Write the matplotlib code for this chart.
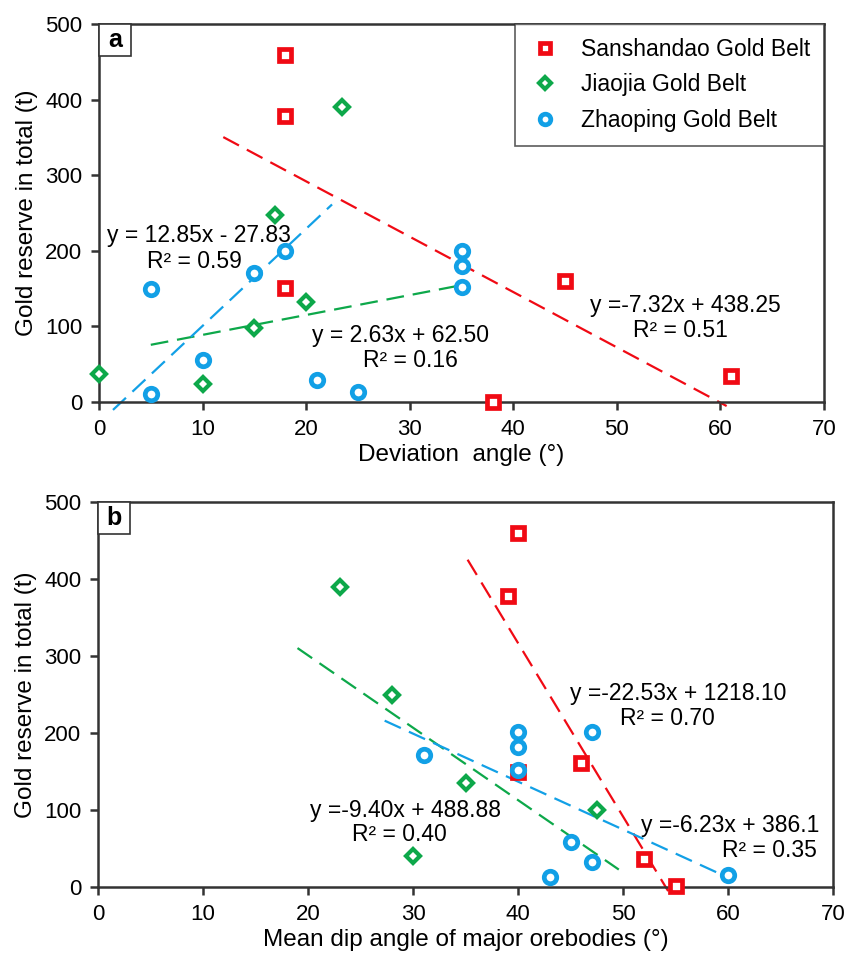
import numpy as np
import matplotlib.pyplot as plt
from matplotlib.patches import Rectangle

plt.rcParams['font.family'] = ['Liberation Sans', 'DejaVu Sans']

# panel a: deviation angle (deg) vs total gold reserve (t)
san_dev = [18, 18, 18, 38, 45, 61]
san_res_a = [459, 378, 151, 0, 160, 34]
jia_dev = [0, 10, 15, 17, 20, 23.5]
jia_res_a = [37, 24, 98, 247, 132, 390]
zha_dev = [5, 5, 10, 15, 18, 21, 25, 35, 35, 35]
zha_res_a = [150, 10, 56, 171, 200, 29, 13, 200, 180, 152]

# panel b: mean dip angle of major orebodies (deg) vs total gold reserve (t)
san_dip = [40, 39, 40, 46, 52, 55]
san_res_b = [460, 378, 150, 161, 36, 1]
jia_dip = [23, 28, 30, 35, 47.5]
jia_res_b = [390, 249, 40, 135, 100]
zha_dip = [31, 40, 40, 40, 47, 45, 47, 43, 60]
zha_res_b = [171, 201, 182, 152, 201, 58, 32, 13, 16]

# regression lines: slope, intercept, x start, x end
fit_san_a = (-7.32, 438.25, 12.0, 60.6)
fit_jia_a = (2.63, 62.50, 5.0, 35.0)
fit_zha_a = (12.85, -27.83, 1.35, 22.5)
fit_san_b = (-22.53, 1218.10, 35.2, 54.3)
fit_jia_b = (-9.40, 488.88, 19.0, 49.6)
fit_zha_b = (-6.23, 386.1, 27.3, 59.0)

labels = ['Sanshandao Gold Belt', 'Jiaojia Gold Belt', 'Zhaoping Gold Belt']

RED = '#f00a14'
GREEN = '#0da84a'
BLUE = '#12a0e6'
SPINE = '#333333'

mk_san = dict(marker='s', ms=8.0, mfc='white', mec=RED, mew=3.4, ls='none')
mk_jia = dict(marker='D', ms=7.0, mfc='white', mec=GREEN, mew=3.0, ls='none')
mk_zha = dict(marker='o', ms=9.0, mfc='white', mec=BLUE, mew=3.4, ls='none')

W, H = 849, 956
fig = plt.figure(figsize=(W / 100, H / 100), dpi=100)
ax_a = fig.add_axes([99 / W, 1 - 402 / H, (824 - 99) / W, (402 - 24) / H])
ax_b = fig.add_axes([98 / W, 1 - 887 / H, (833 - 98) / W, (887 - 502) / H])


def fit_line(ax, fit, color):
    k, b, x0, x1 = fit
    xs = np.array([x0, x1])
    ax.plot(xs, k * xs + b, color=color, lw=1.6, dashes=(8, 4), clip_on=False, zorder=2)


def style_axes(ax, letter):
    ax.set_xlim(0, 70)
    ax.set_ylim(0, 500)
    ax.set_xticks(np.arange(0, 71, 10))
    ax.set_yticks(np.arange(0, 501, 100))
    for s in ax.spines.values():
        s.set_color(SPINE)
        s.set_linewidth(1.8)
    ax.tick_params(direction='out', length=6, width=1.8, color=SPINE,
                   labelsize=16, pad=6, top=False, right=False)
    ax.set_ylabel('Gold reserve in total (t)', fontsize=17.5, labelpad=5)
    # panel letter in a small square box at the top-left corner
    pos = ax.get_position()
    bw = 32 / (pos.width * W)
    bh = 32 / (pos.height * H)
    ax.add_patch(Rectangle((0, 1 - bh), bw, bh, transform=ax.transAxes,
                           fc='white', ec=SPINE, lw=1.2, zorder=5, clip_on=False))
    ax.text(bw / 2, 1 - bh / 2, letter, transform=ax.transAxes, ha='center', va='center',
            fontsize=18, fontweight='bold', zorder=6)


# ---- panel a ----
fit_line(ax_a, fit_san_a, RED)
fit_line(ax_a, fit_jia_a, GREEN)
fit_line(ax_a, fit_zha_a, BLUE)
h1, = ax_a.plot(san_dev, san_res_a, clip_on=False, zorder=3, **mk_san)
h2, = ax_a.plot(jia_dev, jia_res_a, clip_on=False, zorder=3, **mk_jia)
h3, = ax_a.plot(zha_dev, zha_res_a, clip_on=False, zorder=3, **mk_zha)
style_axes(ax_a, 'a')
ax_a.set_xlabel('Deviation  angle (°)', fontsize=17.5, labelpad=3)

txt = dict(fontsize=16.5, va='baseline', ha='left')
ax_a.text(0.77, 211.6, 'y = 12.85x - 27.83', **txt)
ax_a.text(4.63, 177.2, 'R² = 0.59', **txt)
ax_a.text(20.6, 79.4, 'y = 2.63x + 62.50', **txt)
ax_a.text(25.5, 46.3, 'R² = 0.16', **txt)
ax_a.text(47.4, 119.0, 'y =-7.32x + 438.25', **txt)
ax_a.text(51.6, 86.0, 'R² = 0.51', **txt)

leg = ax_a.legend([h1, h2, h3], labels, loc='upper right', bbox_to_anchor=(1.0, 1.0),
                  fontsize=16.5, frameon=True, fancybox=False, borderaxespad=0,
                  borderpad=0.6, handlelength=1.5, handletextpad=0.8, labelspacing=0.55,
                  markerscale=0.85)
leg.get_frame().set_edgecolor(SPINE)
leg.get_frame().set_linewidth(1.2)

# ---- panel b ----
fit_line(ax_b, fit_san_b, RED)
fit_line(ax_b, fit_jia_b, GREEN)
fit_line(ax_b, fit_zha_b, BLUE)
ax_b.plot(san_dip, san_res_b, clip_on=False, zorder=3, **mk_san)
ax_b.plot(jia_dip, jia_res_b, clip_on=False, zorder=3, **mk_jia)
ax_b.plot(zha_dip, zha_res_b, clip_on=False, zorder=4, **mk_zha)
style_axes(ax_b, 'b')
ax_b.set_xlabel('Mean dip angle of major orebodies (°)', fontsize=17.5, labelpad=3)

ax_b.text(20.2, 90.9, 'y =-9.40x + 488.88', **txt)
ax_b.text(24.2, 59.7, 'R² = 0.40', **txt)
ax_b.text(45.0, 242.9, 'y =-22.53x + 1218.10', **txt)
ax_b.text(49.7, 210.4, 'R² = 0.70', **txt)
ax_b.text(51.7, 71.4, 'y =-6.23x + 386.1', **txt)
ax_b.text(59.4, 39.0, 'R² = 0.35', **txt)

fig.savefig('out.png', dpi=100)
